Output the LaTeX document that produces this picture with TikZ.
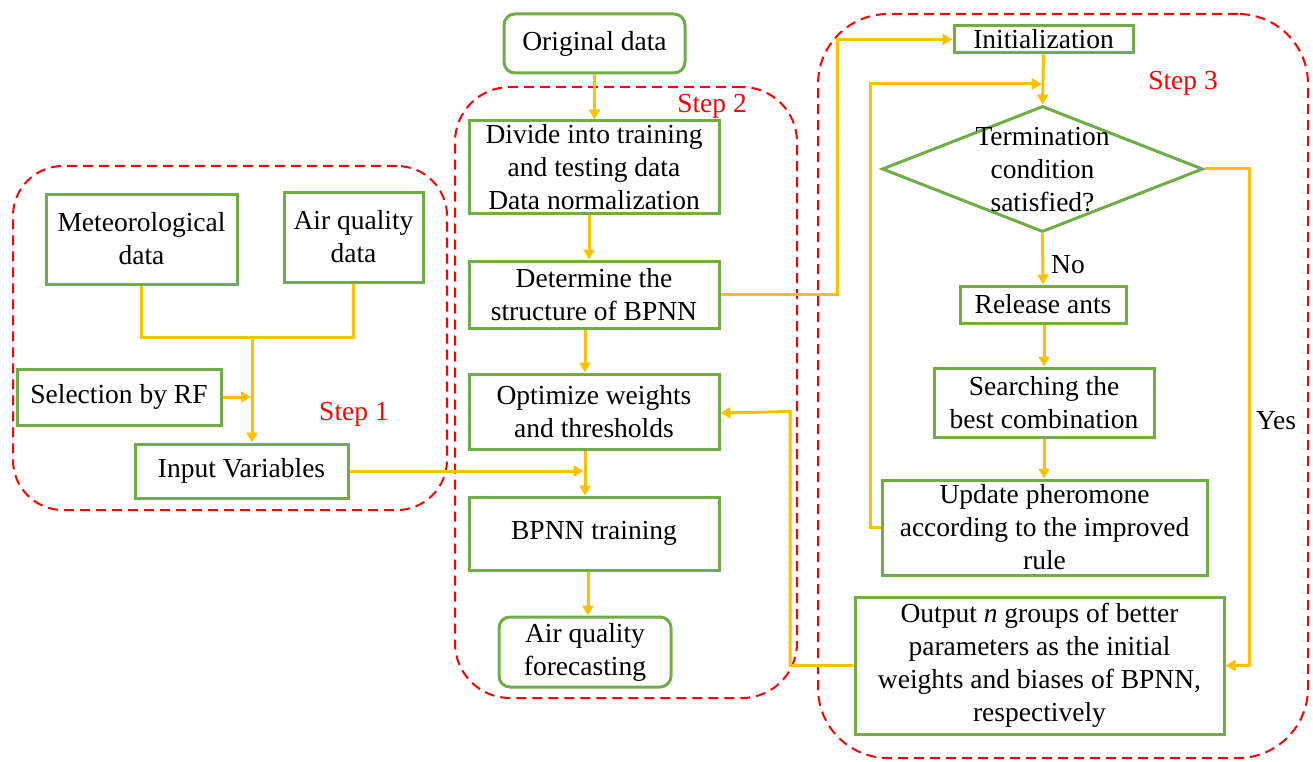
\documentclass[tikz,border=0pt]{standalone}
\usepackage{fontspec}
\setmainfont{Liberation Serif}
\usetikzlibrary{arrows.meta,shapes.geometric,calc}
\definecolor{gbox}{HTML}{70AD47}
\definecolor{oline}{HTML}{FFC000}
\definecolor{rdash}{HTML}{FF0000}
\begin{document}
\begin{tikzpicture}[x=1pt,y=-1pt,
  every node/.style={font=\fontsize{27.5}{33}\selectfont},
  box/.style={draw=gbox, line width=3pt, inner sep=0pt, align=center, fill=white},
  rbox/.style={box, rounded corners=11pt},
  stepbox/.style={draw=rdash, line width=2pt, dash pattern=on 10pt off 6pt, inner sep=0pt},
  steplab/.style={text=rdash, inner sep=0pt},
  ln/.style={draw=oline, line width=3pt},
  arr/.style={ln, -{Triangle[length=10pt,width=11pt]}},
  plain/.style={inner sep=0pt, align=center}
]
\useasboundingbox (0,0) rectangle (1313,762);

% step regions
\node[stepbox, rounded corners=50pt, minimum width=434pt, minimum height=344pt] (s1) at (230,338) {};
\node[stepbox, rounded corners=55pt, minimum width=342pt, minimum height=611pt] (s2) at (626,392.5) {};
\node[stepbox, rounded corners=70pt, minimum width=490pt, minimum height=744pt] (s3) at (1063,386) {};
\node[steplab] (s1lab) at (354,414) {Step 1};
\node[steplab] (s2lab) at (712,106) {Step 2};
\node[steplab] (s3lab) at (1183,83) {Step 3};

% step 1 nodes
\node[box, minimum width=191pt, minimum height=90pt] (met) at (141.5,239) {Meteorological\\data};
\node[box, minimum width=139pt, minimum height=90pt] (aqd) at (353.5,237) {Air quality\\data};
\node[box, minimum width=204pt, minimum height=56pt] (sel) at (119,397) {Selection by RF};
\node[box, minimum width=213pt, minimum height=54pt] (inp) at (241.5,471) {Input Variables};

% step 2 nodes
\node[rbox, minimum width=181pt, minimum height=59pt] (orig) at (594.5,43.5) {Original data};
\node[box, minimum width=250pt, minimum height=92pt] (div) at (594,167) {Divide into training\\and testing data\\Data normalization};
\node[box, minimum width=250pt, minimum height=67pt] (det) at (594,294.5) {Determine the\\structure of BPNN};
\node[box, minimum width=250pt, minimum height=75pt] (opt) at (594,411.5) {Optimize weights\\and thresholds};
\node[box, minimum width=250pt, minimum height=73pt] (bpt) at (594,533.5) {BPNN training};
\node[rbox, minimum width=172pt, minimum height=70pt] (aqf) at (585,652) {Air quality\\forecasting};

% step 3 nodes
\node[box, minimum width=179pt, minimum height=27pt] (init) at (1043.5,39.5) {Initialization};
\node[draw=gbox, line width=3pt, shape=diamond, inner sep=0pt, minimum width=321pt, minimum height=126pt] (cond) at (1042.5,169) {};
\node[plain] (condtext) at (1042.5,170) {Termination\\condition\\satisfied?};
\node[box, minimum width=166pt, minimum height=37pt] (rel) at (1043,304.5) {Release ants};
\node[box, minimum width=220pt, minimum height=69pt] (srch) at (1044,402.5) {Searching the\\best combination};
\node[box, minimum width=325pt, minimum height=95pt] (upd) at (1044.5,527.5) {Update pheromone\\according to the improved\\rule};
\node[box, minimum width=369pt, minimum height=137pt] (out) at (1039.5,665.5) {Output \textit{n} groups of better\\parameters as the initial\\weights and biases of BPNN,\\respectively};
\node[plain] (no) at (1068,265) {No};
\node[plain] (yes) at (1276,421) {Yes};

% bend coordinates
\coordinate (j1) at (252,337);
\coordinate (c2) at (585,0);
\coordinate (b1) at (837,0);
\coordinate (b2) at (870,84);
\coordinate (b3) at (1249,0);
\coordinate (b4) at (790,0);
\coordinate (c3) at (1044,0);

% step 1 connectors
\draw[ln] (met.south) |- (j1);
\draw[ln] (aqd.south) |- (j1);
\draw[arr] (j1) -- (j1 |- inp.north);
\draw[arr] (sel.east) -- ($(sel.east -| j1)+(-1,0)$);
\draw[arr] (inp.east) -- ($(inp.east -| c2)+(-1.5,0)$);

% step 2 connectors
\draw[arr] (orig.south) -- (orig.south |- div.north);
\draw[arr] (div.south -| 589,0) -- (det.north -| 589,0);
\draw[arr] (det.south -| c2) -- (opt.north -| c2);
\draw[arr] (opt.south -| c2) -- (bpt.north -| c2);
\draw[arr] (bpt.south -| 588,0) -- (aqf.north -| 588,0);

% cross connectors
\draw[arr] (det.east) -| (b1 |- init.west) -- (init.west);
\draw[arr] (out.west) -| (b4 |- opt.east) -- ($(opt.east)+(0,1.5)$);

% step 3 connectors
\draw[arr] (init.south) -- (cond.north);
\draw[arr] (cond.south) -- (rel.north);
\draw[arr] (rel.south -| c3) -- (srch.north -| c3);
\draw[arr] (srch.south -| c3) -- (upd.north -| c3);
\draw[arr] (upd.west) -| (b2) -- ($(b2 -| c3)+(-2,0)$);
\draw[arr] (cond.east) -| (b3 |- out.east) -- (out.east);
\end{tikzpicture}
\end{document}
